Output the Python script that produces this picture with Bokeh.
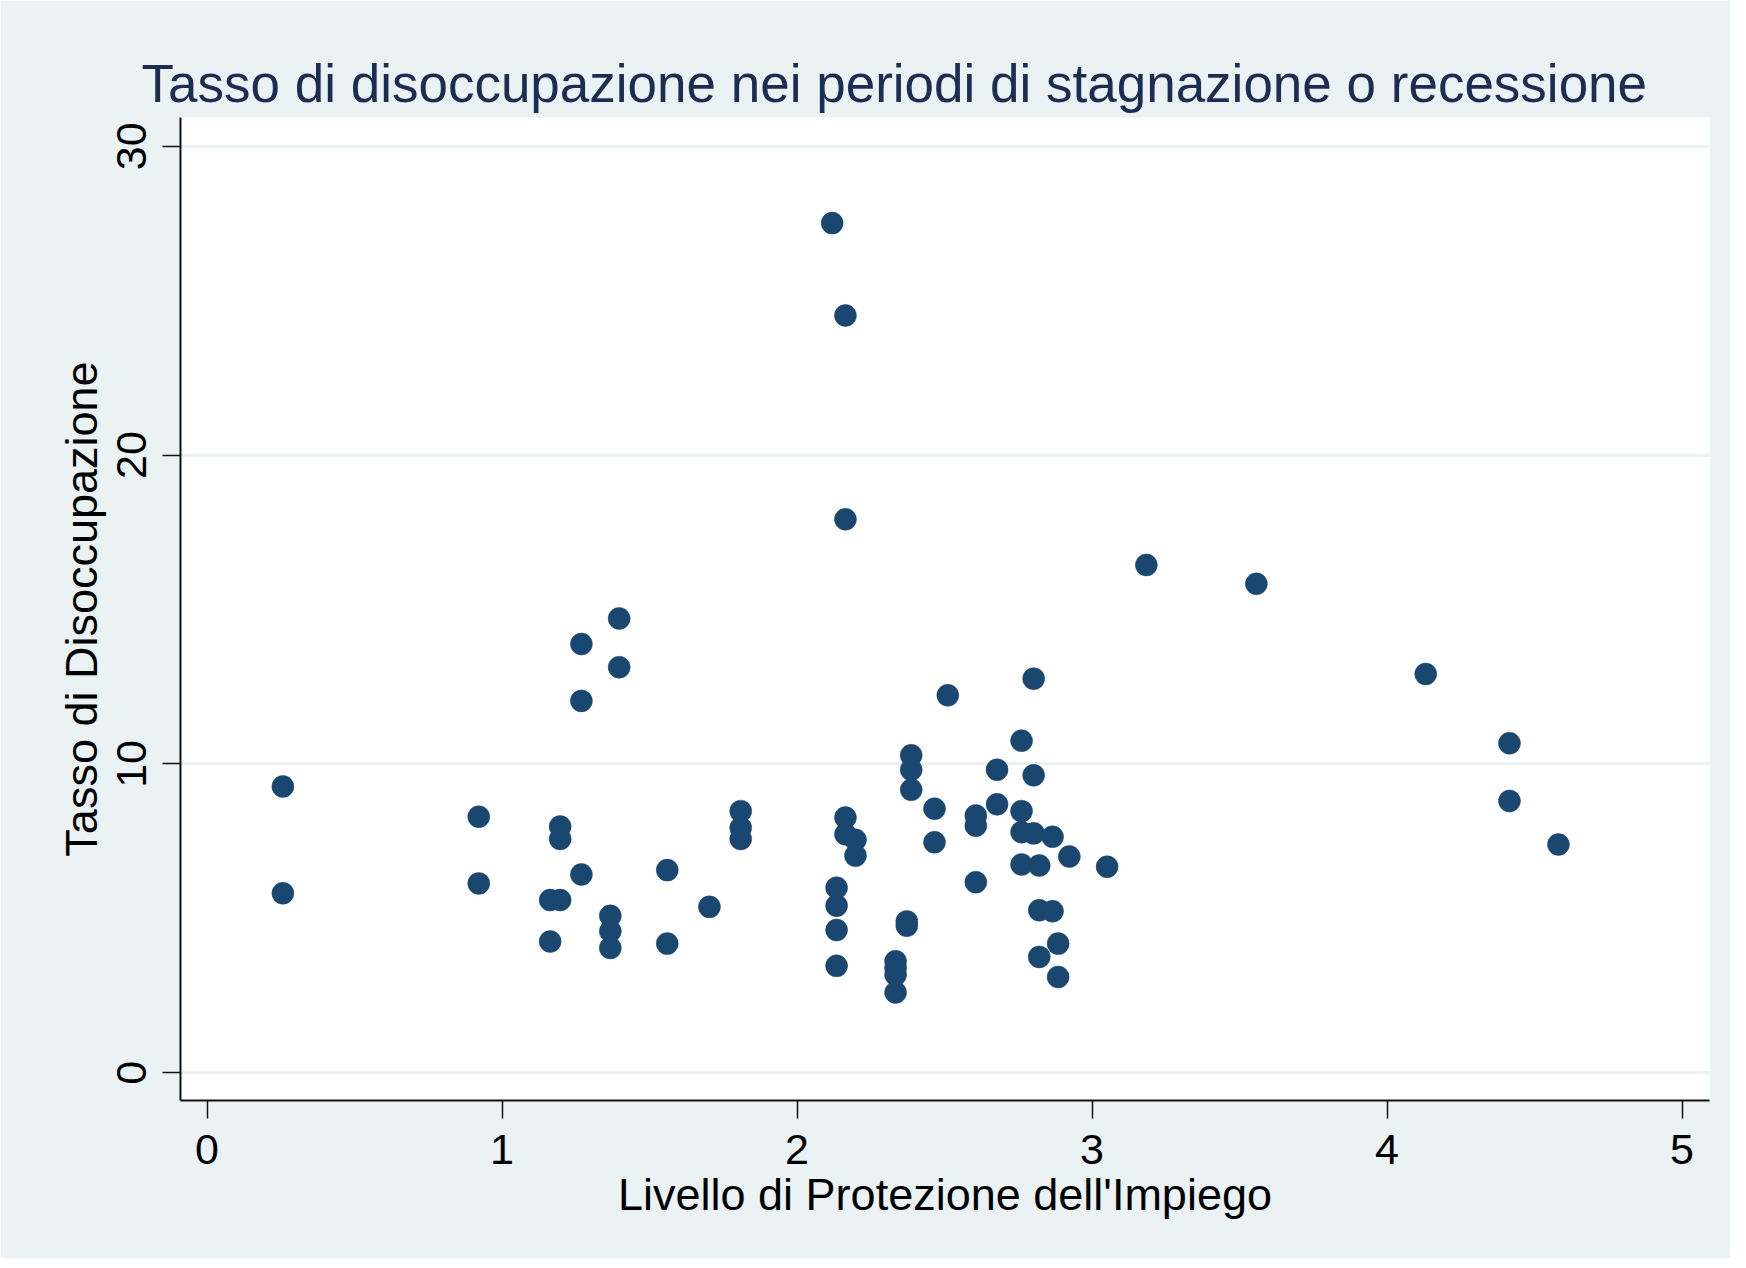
from bokeh.plotting import figure
from bokeh.embed import file_html
from bokeh.resources import INLINE
from bokeh.models import FixedTicker, Range1d

# Data: employment protection level (x) vs unemployment rate (y)
epl = [0.257, 0.257, 0.921, 0.921, 1.163, 1.197, 1.163, 1.197, 1.197,
       1.269, 1.269, 1.269, 1.397, 1.397, 1.367, 1.367, 1.367,
       1.56, 1.56, 1.703, 1.809, 1.809, 1.809,
       2.119, 2.164, 2.164, 2.164, 2.164, 2.198, 2.198,
       2.134, 2.134, 2.134, 2.134,
       2.334, 2.334, 2.334, 2.334, 2.372, 2.372,
       2.387, 2.387, 2.387, 2.466, 2.466, 2.511,
       2.606, 2.606, 2.606, 2.678, 2.678,
       2.761, 2.761, 2.761, 2.761, 2.802, 2.802, 2.802,
       2.821, 2.821, 2.821, 2.866, 2.866, 2.885, 2.885, 2.923,
       3.051, 3.184, 3.557, 4.131, 4.415, 4.415, 4.581]
unemp = [9.27, 5.81, 8.29, 6.13, 5.59, 5.59, 4.25, 7.97, 7.57,
         13.88, 12.04, 6.42, 14.71, 13.13, 5.08, 4.58, 4.04,
         6.56, 4.18, 5.37, 8.47, 7.93, 7.57,
         27.51, 24.52, 17.92, 8.26, 7.72, 7.54, 7.03,
         5.99, 5.41, 4.62, 3.46,
         3.61, 3.39, 3.17, 2.60, 4.90, 4.76,
         10.28, 9.81, 9.16, 8.55, 7.46, 12.22,
         8.33, 8.00, 6.17, 9.81, 8.69,
         10.75, 8.47, 7.79, 6.74, 12.76, 9.63, 7.75,
         6.71, 5.26, 3.75, 7.64, 5.23, 4.18, 3.10, 7.00,
         6.67, 16.44, 15.83, 12.91, 10.67, 8.80, 7.39]
x_ticks = [0, 1, 2, 3, 4, 5]
y_ticks = [0, 10, 20, 30]

FONT = "Liberation Sans"
BG = "#EAF2F3"

p = figure(width=1730, height=1258, output_backend="svg", toolbar_location=None,
           x_range=Range1d(-0.09, 5.093), y_range=Range1d(-0.9, 30.93),
           background_fill_color="white", border_fill_color=BG,
           min_border_left=180, min_border_right=21, min_border_top=117,
           min_border_bottom=158)
p.outline_line_color = None

p.title.text = "Tasso di disoccupazione nei periodi di stagnazione o recessione"
p.title.text_font = FONT
p.title.text_font_size = "53px"
p.title.text_font_style = "normal"
p.title.text_color = "#1e2b52"
p.title.align = "left"
p.title.offset = -39
p.title.standoff = 9

p.scatter(epl, unemp, size=22, fill_color="#1a476f", line_color="#1a476f", line_width=0.5)

p.xgrid.grid_line_color = None
p.ygrid.grid_line_color = BG
p.ygrid.grid_line_width = 3

for ax in (p.xaxis, p.yaxis):
    ax.axis_line_color = "#111111"
    ax.axis_line_width = 2
    ax.major_tick_line_color = "#111111"
    ax.major_tick_line_width = 1.5
    ax.major_tick_out = 18
    ax.major_tick_in = 0
    ax.minor_tick_line_color = None
    ax.major_label_text_font = FONT
    ax.major_label_text_font_size = "43px"
    ax.major_label_text_color = "black"
    ax.axis_label_text_font = FONT
    ax.axis_label_text_font_size = "45px"
    ax.axis_label_text_font_style = "normal"
    ax.axis_label_text_color = "black"

p.xaxis.ticker = FixedTicker(ticks=x_ticks)
p.yaxis.ticker = FixedTicker(ticks=y_ticks)
p.xaxis.axis_label = "Livello di Protezione dell'Impiego"
p.yaxis.axis_label = "Tasso di Disoccupazione"
p.yaxis.major_label_orientation = "vertical"
p.xaxis.major_label_standoff = 16
p.yaxis.major_label_standoff = 16
p.xaxis.axis_label_standoff = 2
p.yaxis.axis_label_standoff = 8

open("out.html", "w").write(file_html(p, INLINE))
